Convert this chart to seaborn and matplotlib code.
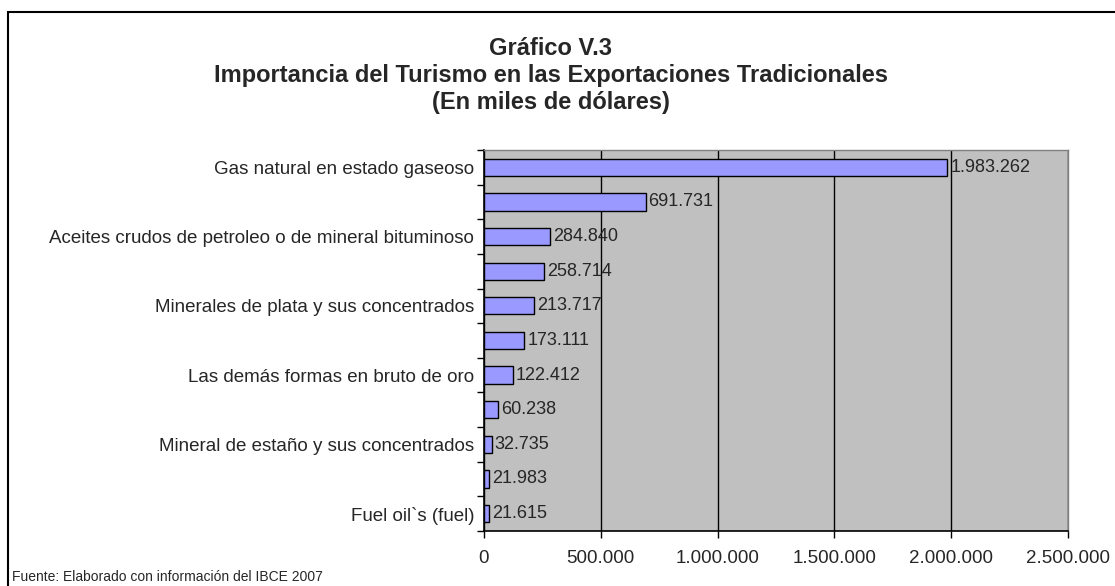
import matplotlib
matplotlib.use('Agg')
import matplotlib.pyplot as plt
import matplotlib.ticker as mticker
from matplotlib.patches import Rectangle
import seaborn as sns

# data (miles de dolares); unlabeled rows are hidden in the original
labels = ['Gas natural en estado gaseoso', '',
          'Aceites crudos de petroleo o de mineral bituminoso', '',
          'Minerales de plata y sus concentrados', '',
          'Las demás formas en bruto de oro', '',
          'Mineral de estaño y sus concentrados', '',
          'Fuel oil`s (fuel)']
values = [1983262, 691731, 284840, 258714, 213717, 173111, 122412, 60238, 32735, 21983, 21615]
xticks = [0, 500000, 1000000, 1500000, 2000000, 2500000]

sns.set_style('white')
plt.rcParams['font.family'] = ['Liberation Sans', 'DejaVu Sans']

fig = plt.figure(figsize=(11.15, 5.86), dpi=100)
ax = fig.add_axes([0.434, 0.094, 0.524, 0.65])

pos = [str(i) for i in range(len(values))]
sns.barplot(x=values, y=pos, orient='h', color='#9999FF', saturation=1,
            edgecolor='black', linewidth=1, width=0.5, ax=ax)

ax.set_facecolor('#C0C0C0')
ax.set_xlim(0, 2500000)
ax.set_ylim(len(values) - 0.5, -0.5)
ax.set_xticks(xticks)
ax.xaxis.set_major_formatter(mticker.FuncFormatter(lambda v, p: f'{int(v):,}'.replace(',', '.')))
ax.set_yticks(range(len(labels)))
ax.set_yticklabels(labels)
ax.tick_params(axis='y', length=0, pad=7, labelsize=13.5)
ax.tick_params(axis='x', length=5, width=1, direction='out', color='black', pad=9, labelsize=13.5,
               bottom=True)
ax.set_yticks([i - 0.5 for i in range(len(values) + 1)], minor=True)
ax.tick_params(axis='y', which='minor', length=5, width=1, direction='out', color='black', left=True)
ax.grid(axis='x', color='black', linewidth=1)
ax.set_axisbelow(True)
for s in ['left', 'bottom']:
    ax.spines[s].set_color('black')
    ax.spines[s].set_linewidth(1.2)
for s in ['right', 'top']:
    ax.spines[s].set_color('#808080')
    ax.spines[s].set_linewidth(1)
ax.set_xlabel('')
ax.set_ylabel('')

for i, v in enumerate(values):
    ax.text(v + 12000, i, f'{v:,}'.replace(',', '.'), va='center', ha='left', fontsize=13)

fig.text(0.494, 0.871, 'Gráfico V.3\nImportancia del Turismo en las Exportaciones Tradicionales\n(En miles de dólares)',
         ha='center', va='center', fontsize=17, fontweight='bold', linespacing=1.2)
fig.text(0.011, 0.004, 'Fuente: Elaborado con información del IBCE 2007', ha='left', va='bottom', fontsize=10)

fig.patches.append(Rectangle((8 / 1115, -0.05), 1.1, 1 - 12 / 586 + 0.05, transform=fig.transFigure,
                             fill=False, edgecolor='black', linewidth=1.5))

fig.savefig('out.png', dpi=100)
